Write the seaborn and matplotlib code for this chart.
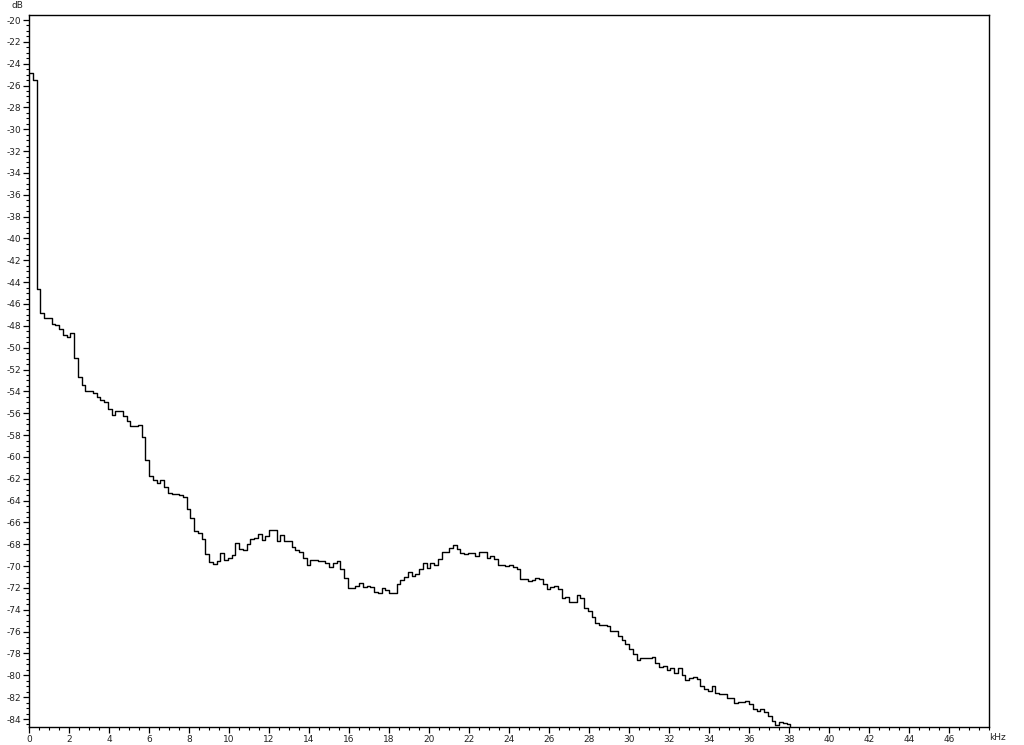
import numpy as np
import pandas as pd
import seaborn as sns
import matplotlib
matplotlib.use("Agg")
import matplotlib.pyplot as plt
from matplotlib.ticker import MultipleLocator

# Spectrum level per FFT bin (dB), bin width 0.1875 kHz starting at 0 kHz
bin_width_khz = 0.1875
levels_db = [
    -24.85, -25.5, -44.66, -46.86, -47.32, -47.32, -47.84, -47.93, -48.32, -48.85,
    -49.06, -48.7, -50.98, -52.72, -53.45, -53.97, -53.97, -54.19, -54.55, -54.83,
    -54.98, -55.65, -56.2, -55.84, -55.84, -56.26, -56.75, -57.18, -57.18, -57.09,
    -58.22, -60.32, -61.76, -62.07, -62.43, -62.16, -62.74, -63.35, -63.44, -63.38,
    -63.47, -63.71, -64.81, -65.63, -66.76, -66.97, -67.53, -68.93, -69.63, -69.82,
    -69.51, -68.84, -69.45, -69.27, -68.99, -67.92, -68.41, -68.53, -68.01, -67.5,
    -67.4, -67.1, -67.65, -67.22, -66.7, -66.7, -67.74, -67.19, -67.68, -67.68,
    -68.23, -68.53, -68.72, -69.30, -69.94, -69.48, -69.48, -69.54, -69.54, -69.76,
    -70.09, -69.76, -69.57, -70.30, -71.13, -72.04, -72.04, -71.86, -71.50, -71.95,
    -71.80, -71.89, -72.38, -72.50, -72.04, -72.20, -72.50, -72.50, -71.68, -71.28,
    -71.04, -70.58, -70.92, -70.76, -70.27, -69.72, -70.15, -69.76, -69.94, -69.39,
    -68.75, -68.75, -68.38, -68.11, -68.47, -68.78, -68.90, -68.84, -68.84, -69.11,
    -68.75, -68.75, -69.30, -69.05, -69.33, -69.94, -69.94, -70.03, -69.94, -70.06,
    -70.30, -71.22, -71.22, -71.37, -71.28, -71.13, -71.16, -71.64, -72.07, -71.92,
    -71.83, -72.07, -72.90, -72.86, -73.32, -73.32, -72.68, -72.96, -73.87, -74.15,
    -74.70, -75.25, -75.43, -75.43, -75.49, -75.95, -75.95, -76.44, -76.77, -77.11,
    -77.57, -78.05, -78.60, -78.45, -78.45, -78.45, -78.36, -78.85, -79.21, -79.12,
    -79.55, -79.37, -79.82, -79.37, -79.98, -80.43, -80.25, -80.19, -80.31, -80.95,
    -81.29, -81.44, -81.01, -81.60, -81.72, -81.75, -82.08, -82.08, -82.57, -82.48,
    -82.48, -82.33, -82.63, -83.06, -83.27, -83.12, -83.37, -83.73, -84.16, -84.56,
    -84.31, -84.40, -84.50, -86.5,
]
freq_khz = [i * bin_width_khz for i in range(len(levels_db))]

x_ticks = list(range(0, 48, 2))
y_ticks = list(range(-84, -19, 2))

df = pd.DataFrame({"kHz": freq_khz, "dB": levels_db})

sns.set_style("ticks")
plt.rcParams["font.family"] = ["DejaVu Sans"]
plt.rcParams["axes.unicode_minus"] = False
plt.rcParams["xtick.minor.size"] = 2.5
plt.rcParams["ytick.minor.size"] = 2.5
plt.rcParams["xtick.minor.width"] = 0.8
plt.rcParams["ytick.minor.width"] = 0.8
plt.rcParams["xtick.major.size"] = 4
plt.rcParams["ytick.major.size"] = 4

fig = plt.figure(figsize=(10.24, 7.45), dpi=100)
ax = fig.add_axes([29 / 1024, 1 - 727 / 745, 960 / 1024, 712 / 745])

sns.lineplot(data=df, x="kHz", y="dB", ax=ax, color="black", linewidth=1.0,
             drawstyle="steps-post", sort=False, estimator=None)

ax.set_xlim(0, 48)
ax.set_ylim(-84.73, -19.54)
ax.set_xticks(x_ticks)
ax.set_yticks(y_ticks)
ax.xaxis.set_minor_locator(MultipleLocator(0.5))
ax.yaxis.set_minor_locator(MultipleLocator(0.5))
ax.tick_params(which="major", direction="out", length=4, width=0.9, color="black",
               labelsize=6.5, pad=1.5, labelcolor="#222222")
ax.tick_params(which="minor", direction="out", length=2.5, width=0.8, color="black",
               bottom=True, left=True)
ax.set_xlabel("")
ax.set_ylabel("")
for s in ax.spines.values():
    s.set_visible(True)
    s.set_color("black")
    s.set_linewidth(1.0)

fig.text(17 / 1024, 1 - 5 / 745, "dB", fontsize=6.5, ha="center", va="center", color="#222222")
fig.text(998 / 1024, 1 - 737 / 745, "kHz", fontsize=6.5, ha="center", va="center", color="#222222")

fig.savefig("out.png", dpi=100, facecolor="white")
